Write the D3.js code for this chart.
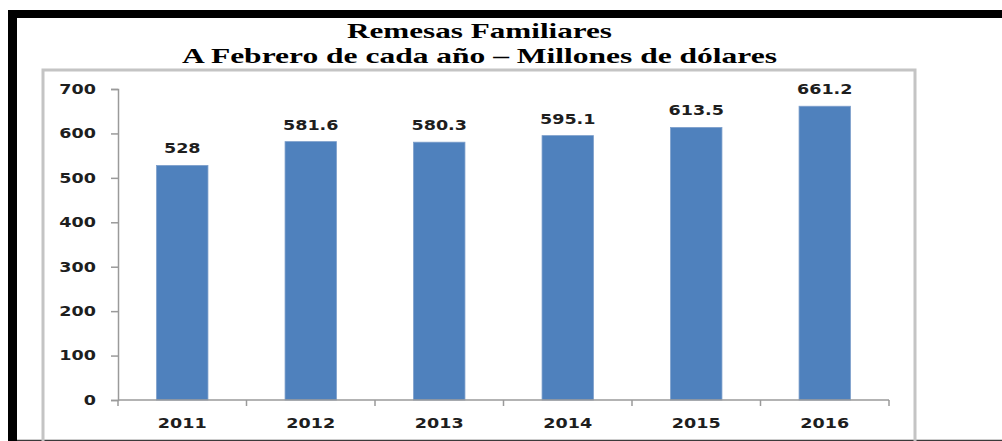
<!DOCTYPE html>
<html lang="es">
<head>
  <meta charset="UTF-8">
  <title>Remesas Familiares</title>
  <style>
    body { margin: 0; background: #fff; }
    .tick-label, .bar-label {
      font-family: "DejaVu Sans", Verdana, sans-serif;
      font-weight: bold;
      font-size: 13.5px;
      fill: #1e1e1e;
    }
    .title {
      font-family: "Liberation Serif", "Times New Roman", serif;
      font-weight: bold;
      font-size: 21px;
      fill: #000;
    }
  </style>
</head>
<body>
  <div id="chart"></div>
  <script src="https://d3js.org/d3.v7.min.js"></script>
  <script>
    // data
    const years = ["2011", "2012", "2013", "2014", "2015", "2016"];
    const remesas = [528, 581.6, 580.3, 595.1, 613.5, 661.2];
    const yTicks = [0, 100, 200, 300, 400, 500, 600, 700];
    const titleLines = ["Remesas Familiares", "A Febrero de cada año \u2013 Millones de dólares"];

    const W = 1002, H = 441;
    const svg = d3.select('#chart').append('svg')
      .attr('width', W)
      .attr('height', H);

    // page frame (black bars from the scanned document)
    svg.append('rect').attr('x', 8).attr('y', 10).attr('width', W - 8).attr('height', 8).attr('fill', '#000');
    svg.append('rect').attr('x', 8).attr('y', 10).attr('width', 9).attr('height', H - 10).attr('fill', '#000');
    svg.append('line').attr('x1', 17).attr('x2', W).attr('y1', 440.5).attr('y2', 440.5)
      .attr('stroke', '#3a3a3a').attr('stroke-width', 1.5);

    // chart area border
    svg.append('path')
      .attr('d', 'M43,' + H + ' V70 H915 V' + H)
      .attr('fill', 'none')
      .attr('stroke', '#c4c4c4')
      .attr('stroke-width', 3);

    // titles
    const titleW = [265, 595];
    const titleY = [38, 63];
    titleLines.forEach((t, i) => {
      svg.append('text')
        .attr('class', 'title')
        .attr('x', 479.5)
        .attr('y', titleY[i])
        .attr('text-anchor', 'middle')
        .attr('textLength', titleW[i])
        .attr('lengthAdjust', 'spacingAndGlyphs')
        .text(t);
    });

    const x0 = 118, x1 = 889, y0 = 400;
    const x = d3.scaleBand()
      .domain(years)
      .range([x0, x1])
      .paddingInner(0.6)
      .paddingOuter(0.3);

    const y = d3.scaleLinear()
      .domain([0, 700])
      .range([y0, 89]);

    const stretch = function (factor) {
      return function () {
        const w = this.getComputedTextLength();
        d3.select(this).attr('textLength', w * factor).attr('lengthAdjust', 'spacingAndGlyphs');
      };
    };

    // bars
    svg.selectAll('.bar')
      .data(remesas)
      .enter()
      .append('rect')
      .attr('class', 'bar')
      .attr('x', (d, i) => x(years[i]))
      .attr('y', d => y(d))
      .attr('width', x.bandwidth())
      .attr('height', d => y0 - y(d))
      .attr('fill', '#4f81bd')
      .attr('stroke', '#7d9fcb')
      .attr('stroke-width', 0.8);

    // value labels
    svg.selectAll('.bar-label')
      .data(remesas)
      .enter()
      .append('text')
      .attr('class', 'bar-label')
      .attr('x', (d, i) => x(years[i]) + x.bandwidth() / 2)
      .attr('y', d => y(d) - 12)
      .attr('text-anchor', 'middle')
      .text(d => d)
      .each(stretch(1.3));

    // y axis
    const yAxis = svg.append('g')
      .attr('transform', `translate(${x0},0)`)
      .call(d3.axisLeft(y).tickValues(yTicks).tickSize(7).tickPadding(15));
    yAxis.select('.domain').attr('stroke', '#9a9a9a').attr('stroke-width', 1.5);
    yAxis.selectAll('.tick line').attr('stroke', '#9a9a9a').attr('stroke-width', 1.5);
    yAxis.selectAll('.tick text')
      .attr('class', 'tick-label')
      .attr('font-family', null).attr('font-size', null).attr('fill', null)
      .each(stretch(1.3));
    yAxis.attr('font-family', null).attr('font-size', null);

    // x axis: ticks at band boundaries
    const bounds = years.map(d => x(d) - x.step() * x.paddingInner() / 2).concat([x1]);
    bounds[0] = x0;
    svg.append('line')
      .attr('x1', x0).attr('x2', x1).attr('y1', y0).attr('y2', y0)
      .attr('stroke', '#9a9a9a').attr('stroke-width', 1.5);
    svg.selectAll('.xtick')
      .data(bounds)
      .enter()
      .append('line')
      .attr('x1', d => d).attr('x2', d => d)
      .attr('y1', y0).attr('y2', y0 + 6)
      .attr('stroke', '#9a9a9a').attr('stroke-width', 1.5);
    svg.selectAll('.xlabel')
      .data(years)
      .enter()
      .append('text')
      .attr('class', 'tick-label')
      .attr('x', d => x(d) + x.bandwidth() / 2)
      .attr('y', 428)
      .attr('text-anchor', 'middle')
      .text(d => d)
      .each(stretch(1.3));
  </script>
</body>
</html>
